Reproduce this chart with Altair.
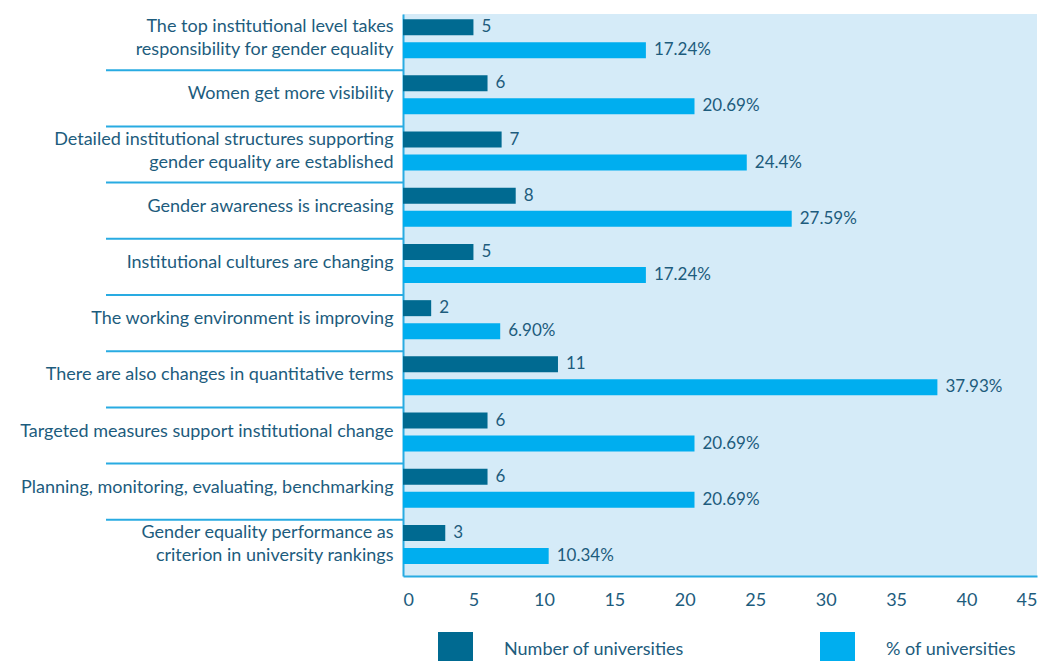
import altair as alt
import pandas as pd

categories = [
    "The top institutional level takes\nresponsibility for gender equality",
    "Women get more visibility",
    "Detailed institutional structures supporting\ngender equality are established",
    "Gender awareness is increasing",
    "Institutional cultures are changing",
    "The working environment is improving",
    "There are also changes in quantitative terms",
    "Targeted measures support institutional change",
    "Planning, monitoring, evaluating, benchmarking",
    "Gender equality performance as\ncriterion in university rankings",
]
num_universities = [5, 6, 7, 8, 5, 2, 11, 6, 6, 3]
pct_universities = [17.24, 20.69, 24.4, 27.59, 17.24, 6.90, 37.93, 20.69, 20.69, 10.34]
pct_labels = ["17.24%", "20.69%", "24.4%", "27.59%", "17.24%", "6.90%", "37.93%", "20.69%", "20.69%", "10.34%"]
series_names = ["Number of universities", "% of universities"]
x_ticks = [0, 5, 10, 15, 20, 25, 30, 35, 40, 45]

TEXT = "#1d5c7d"
DARK = "#006a91"
LIGHT = "#00aeef"
LINE = "#29abe2"
BG = "#d5ebf8"
FONT = "Lato"

rows = []
for c, n, p, pl in zip(categories, num_universities, pct_universities, pct_labels):
    rows.append({"cat": c, "series": series_names[0], "value": n, "label": str(n)})
    rows.append({"cat": c, "series": series_names[1], "value": p, "label": pl})
df = pd.DataFrame(rows)
sep_df = pd.DataFrame({"cat": categories[1:]})

y_enc = alt.Y(
    "cat:N",
    sort=categories,
    scale=alt.Scale(domain=categories, paddingInner=0, paddingOuter=0),
    axis=alt.Axis(
        title=None,
        ticks=False,
        domainColor=LINE,
        domainWidth=2,
        labelColor=TEXT,
        labelFont=FONT,
        labelFontSize=18,
        labelPadding=10,
        labelLimit=500,
        labelLineHeight=23,
        labelOffset={"condition": {"test": "indexof(datum.value, '\\n') >= 0", "value": -15}, "value": -4},
        labelExpr="split(datum.label, '\\n')",
    ),
)
y_off = alt.YOffset(
    "series:N",
    sort=series_names,
    scale=alt.Scale(domain=series_names, paddingInner=0.304, paddingOuter=0.374, align=0.3),
)
x_enc = alt.X(
    "value:Q",
    scale=alt.Scale(domain=[0, 45], nice=False),
    axis=alt.Axis(
        title=None,
        values=x_ticks,
        grid=False,
        ticks=False,
        domainColor=LINE,
        domainWidth=2,
        labelColor=TEXT,
        labelFont=FONT,
        labelFontSize=18,
        labelPadding=15,
    ),
)

bars = alt.Chart(df).mark_bar().encode(
    x=x_enc,
    y=y_enc,
    yOffset=y_off,
    color=alt.Color(
        "series:N",
        sort=series_names,
        scale=alt.Scale(domain=series_names, range=[DARK, LIGHT]),
        legend=alt.Legend(
            title=None,
            orient="none",
            direction="horizontal",
            legendX=35,
            legendY=618,
            padding=0,
            symbolType="square",
            symbolSize=1225,
            symbolStrokeWidth=0,
            labelOffset=31,
            columnPadding=135,
            labelColor=TEXT,
            labelFont=FONT,
            labelFontSize=18,
            labelLimit=400,
        ),
    ),
)

texts = alt.Chart(df).mark_text(
    align="left", baseline="middle", dx=8, font=FONT, fontSize=17, color=TEXT
).encode(
    x="value:Q",
    y=alt.Y("cat:N", sort=categories),
    yOffset=alt.YOffset("series:N", sort=series_names),
    text="label:N",
)

seps = alt.Chart(sep_df).mark_rule(color=LINE, strokeWidth=2).encode(
    y=alt.Y("cat:N", sort=categories, bandPosition=0),
    x=alt.value(-297),
    x2=alt.value(0),
)

chart = (
    alt.layer(bars, texts, seps)
    .properties(
        width=634,
        height=562,
        autosize=alt.AutoSizeParams(type="none"),
        padding={"left": 395, "top": 6, "right": 8, "bottom": 90},
        background="white",
    )
    .configure_view(fill=BG, strokeWidth=0)
)

chart.save("out.html", embed_options={"renderer": "svg", "actions": False})
